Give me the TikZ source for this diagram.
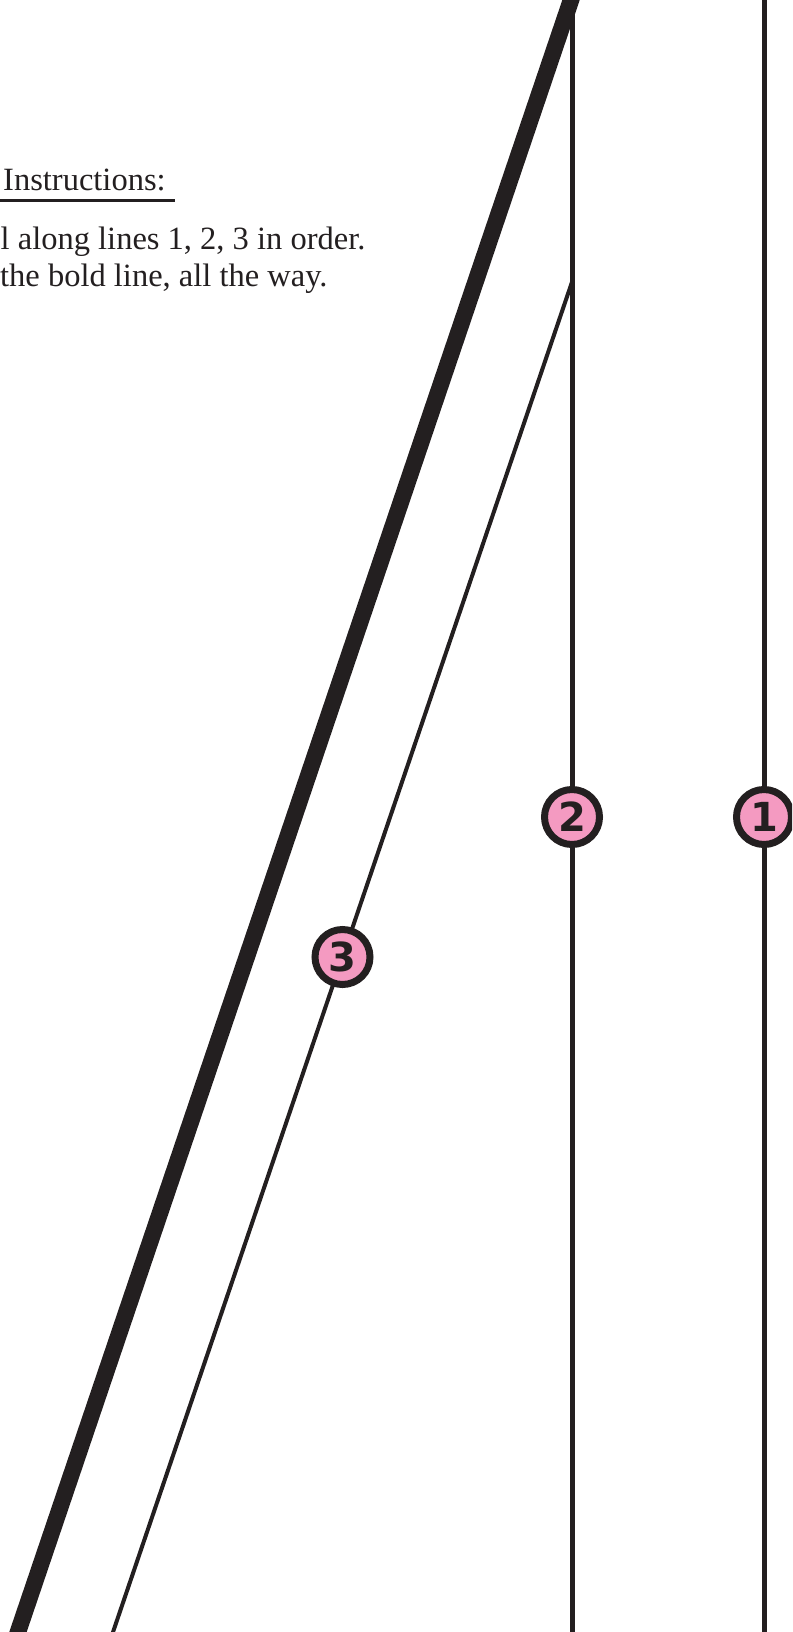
\documentclass[tikz,border=0pt]{standalone}
\usepackage{fontspec}
\setmainfont{Liberation Serif}
\newfontfamily\numfont[BoldFont={DejaVu Sans Bold}]{DejaVu Sans}
\definecolor{ink}{HTML}{231F20}
\definecolor{pinkfill}{HTML}{F49AC1}
\newcommand{\badgefont}{\fontsize{40}{40}\selectfont\numfont\bfseries}
\begin{document}
\begin{tikzpicture}[x=1pt,y=-1pt,
  foldline/.style={draw=ink,line width=5pt},
  boldline/.style={draw=ink,line width=16.5pt},
  thinline/.style={draw=ink,line width=4pt},
  badge/.style={circle,draw=ink,fill=pinkfill,line width=7pt,minimum size=55pt,inner sep=0pt,
    font=\badgefont,text=ink},
  instr/.style={anchor=base west,inner sep=0pt,font=\fontsize{32.5}{39}\selectfont,text=ink}]
\useasboundingbox (0,0) rectangle (792,1632);
\clip (0,0) rectangle (792,1632);
% end points
\coordinate (l1top) at (764,-5);
\coordinate (l1bot) at (764,1640);
\coordinate (l2top) at (572,-5);
\coordinate (l2bot) at (572,1640);
\coordinate (t3top) at (572,282);
\coordinate (t3bot) at (110.3,1640);
\coordinate (btop) at (577.8,-20);
\coordinate (bbot) at (11.2,1652);
% lines
\draw[foldline] (l1top) -- (l1bot);
\draw[foldline] (l2top) -- (l2bot);
\draw[thinline] (t3top) -- (t3bot);
\draw[boldline] (btop) -- (bbot);
% badges
\node[badge] (c1) at (764,817) {1};
\node[badge] (c2) at (572,817) {2};
\node[badge] (c3) at (342.5,957) {3};
% text
\node[instr] (ins) at (3,190) {Instructions:};
\draw[ink,line width=2.5pt] (0,200.5) -- (175,200.5);
\node[instr] (tx1) at (0.5,249.5) {l along lines 1, 2, 3 in order.};
\node[instr] (tx2) at (0,286.7) {the bold line, all the way.};
\end{tikzpicture}
\end{document}
